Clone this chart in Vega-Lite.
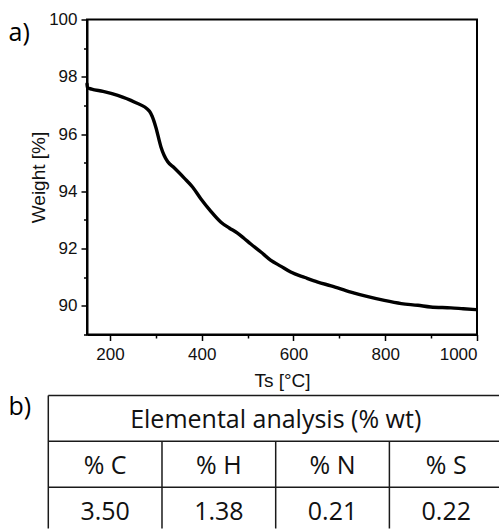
{
  "$schema": "https://vega.github.io/schema/vega-lite/v6.json",
  "background": "white",
  "padding": {"left": 7, "top": 9.5, "right": 0, "bottom": 0},
  "spacing": 3,
  "config": {
    "view": {"stroke": null},
    "axis": {
      "domainColor": "#000", "domainWidth": 2, "tickColor": "#000", "tickWidth": 1.5,
      "labelColor": "#111", "titleColor": "#111", "labelFont": "Liberation Sans", "titleFont": "Liberation Sans",
      "labelFontSize": 17, "titleFontSize": 19, "titleFontWeight": "normal", "grid": false, "tickSize": 6
    }
  },
  "datasets": {
    "tga": [
      {"T":150,"W":97.75},{"T":151,"W":97.62},{"T":160,"W":97.57},{"T":185,"W":97.49},{"T":217,"W":97.35},
      {"T":253,"W":97.12},{"T":286,"W":96.80},{"T":292,"W":96.62},{"T":300,"W":96.24},{"T":311,"W":95.56},
      {"T":318,"W":95.26},{"T":326,"W":95.03},{"T":340,"W":94.82},{"T":362,"W":94.46},{"T":380,"W":94.15},
      {"T":398,"W":93.74},{"T":420,"W":93.30},{"T":442,"W":92.92},{"T":460,"W":92.72},{"T":478,"W":92.54},
      {"T":492,"W":92.36},{"T":507,"W":92.16},{"T":529,"W":91.88},{"T":550,"W":91.60},{"T":573,"W":91.38},
      {"T":594,"W":91.18},{"T":625,"W":90.99},{"T":653,"W":90.83},{"T":682,"W":90.70},{"T":725,"W":90.48},
      {"T":760,"W":90.33},{"T":798,"W":90.19},{"T":835,"W":90.08},{"T":871,"W":90.02},{"T":899,"W":89.96},
      {"T":943,"W":89.93},{"T":970,"W":89.90},{"T":998,"W":89.87}
    ],
    "gridlines": [
      {"x0":0,"x1":3.9728,"y0":0,"y1":0},
      {"x0":0,"x1":3.9728,"y0":1,"y1":1},
      {"x0":0,"x1":3.9728,"y0":2,"y1":2},
      {"x0":0,"x1":0,"y0":0,"y1":2.9007},
      {"x0":1,"x1":1,"y0":1,"y1":2.9007},
      {"x0":2,"x1":2,"y0":1,"y1":2.9007},
      {"x0":3,"x1":3,"y0":1,"y1":2.9007}
    ],
    "cells": [
      {"c0":0,"r0":0,"label":"Elemental analysis (% wt)","kind":"head"},
      {"c0":0,"r0":1,"label":"% C","kind":"cell"},
      {"c0":1,"r0":1,"label":"% H","kind":"cell"},
      {"c0":2,"r0":1,"label":"% N","kind":"cell"},
      {"c0":3,"r0":1,"label":"% S","kind":"cell"},
      {"c0":0,"r0":2,"label":"3.50","kind":"cell"},
      {"c0":1,"r0":2,"label":"1.38","kind":"cell"},
      {"c0":2,"r0":2,"label":"0.21","kind":"cell"},
      {"c0":3,"r0":2,"label":"0.22","kind":"cell"}
    ]
  },
  "vconcat": [
    {
      "width": 390,
      "height": 315,
      "view": {"stroke": "#000", "strokeWidth": 2},
      "data": {"name": "tga"},
      "layer": [
        {
          "mark": {"type": "line", "color": "#000", "strokeWidth": 3.4, "interpolate": "monotone", "strokeCap": "round"},
          "encoding": {
            "x": {"field": "T", "type": "quantitative", "scale": {"domain": [150, 1000], "nice": false, "zero": false},
                  "axis": {"values": [200, 400, 600, 800, 1000], "format": "d", "title": "Ts [°C]", "labelPadding": 6, "titlePadding": 9, "orient": "bottom"}},
            "y": {"field": "W", "type": "quantitative", "scale": {"domain": [89, 100], "nice": false, "zero": false},
                  "axis": {"values": [90, 92, 94, 96, 98, 100], "format": "d", "title": "Weight [%]", "labelPadding": 4, "titlePadding": 0, "orient": "left"}}
          }
        },
        {
          "mark": {"type": "point", "opacity": 0},
          "encoding": {
            "x": {"field": "T", "type": "quantitative",
                  "axis": {"values": [300, 500, 700, 900], "labels": false, "domain": false, "tickSize": 3.5, "title": null, "orient": "bottom"}},
            "y": {"field": "W", "type": "quantitative",
                  "axis": {"values": [89, 91, 93, 95, 97, 99], "labels": false, "domain": false, "tickSize": 3.5, "orient": "left",
                           "title": "a)", "titleAngle": 0, "titleAlign": "left", "titleBaseline": "alphabetic", "titleX": -79, "titleY": 21,
                           "titleFont": "Open Sans", "titleFontSize": 25, "titleColor": "#000"}}
          }
        }
      ],
      "resolve": {"axis": {"x": "independent", "y": "independent"}}
    },
    {
      "width": 413,
      "height": 134,
      "view": {"stroke": null},
      "layer": [
        {
          "data": {"name": "gridlines"},
          "mark": {"type": "rule", "color": "#1a1a1a", "strokeWidth": 1.5},
          "encoding": {
            "x": {"field": "x0", "type": "quantitative", "scale": {"domain": [0.3404, 3.9728], "nice": false, "zero": false}, "axis": null},
            "x2": {"field": "x1"},
            "y": {"field": "y0", "type": "quantitative", "scale": {"domain": [-0.0218, 2.9007], "nice": false, "zero": false, "reverse": true},
                  "axis": {"title": "b)", "labels": false, "ticks": false, "domain": false, "grid": false, "orient": "left",
                           "titleAngle": 0, "titleAlign": "left", "titleBaseline": "alphabetic", "titleX": -79, "titleY": 20,
                           "titleFont": "Open Sans", "titleFontSize": 25, "titleColor": "#000"}},
            "y2": {"field": "y1"}
          }
        },
        {
          "data": {"name": "cells"},
          "transform": [{"filter": "datum.kind === 'head'"}],
          "mark": {"type": "text", "font": "Open Sans", "fontSize": 25, "align": "center", "baseline": "middle", "dx": 227.4, "dy": 24.5, "color": "#111"},
          "encoding": {
            "x": {"field": "c0", "type": "quantitative"},
            "y": {"field": "r0", "type": "quantitative"},
            "text": {"field": "label"}
          }
        },
        {
          "data": {"name": "cells"},
          "transform": [{"filter": "datum.kind === 'cell'"}],
          "mark": {"type": "text", "font": "Open Sans", "fontSize": 25, "align": "center", "baseline": "middle", "dx": 56.85, "dy": 24.5, "color": "#111"},
          "encoding": {
            "x": {"field": "c0", "type": "quantitative"},
            "y": {"field": "r0", "type": "quantitative"},
            "text": {"field": "label"}
          }
        }
      ]
    }
  ]
}
